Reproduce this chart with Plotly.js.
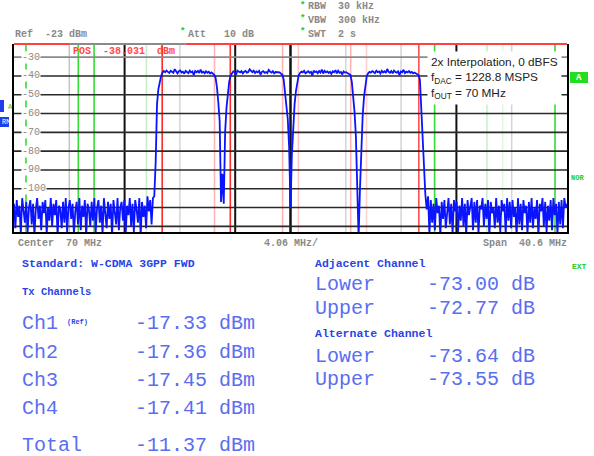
<!DOCTYPE html>
<html><head><meta charset="utf-8">
<script src="https://cdn.plot.ly/plotly-3.0.1.min.js"></script>
<style>html,body{margin:0;padding:0;background:#fff;}#chart{width:594px;height:456px;}</style>
</head><body><div id="chart"></div>
<script>
// ---------------- data ----------------
const centerMHz = 70;
const spanMHz = 40.6;
const startMHz = 49.7;
const stepMHz = 0.1;
const refLevel = -23;
const bottomLevel = -123;

// sweep levels (dBm), 49.7 .. 60.0 MHz
const noiseLow = [
-108,-121,-106,-115,-109,-124,-105,-112,-118,-107,
-123,-110,-106,-119,-108,-125,-111,-105,-116,-109,
-122,-107,-113,-106,-124,-110,-117,-105,-120,-108,
-114,-106,-125,-109,-111,-121,-107,-118,-105,-123,
-110,-106,-116,-108,-124,-112,-107,-119,-105,-122,
-109,-115,-106,-125,-108,-111,-120,-107,-117,-105,
-123,-110,-106,-118,-109,-124,-105,-113,-121,-107,
-116,-108,-125,-106,-112,-119,-105,-122,-110,-107,
-117,-106,-124,-109,-114,-105,-120,-108,-123,-106,
-111,-118,-105,-125,-107,-115,-109,-121,-104,-112,
-106,-119,-105,-104];
// 60.1 .. 80.0 MHz (four W-CDMA carriers)
const band = [
-86,-55,-47,-43,-40,-38.2,
-37.4,-38.0,-37.1,-37.8,-38.4,-37.2,-37.6,-38.3,-36.4,-37.9,-38.6,-37.5,-37.1,-38.2,-37.7,-38.8,-37.3,-37.9,-38.5,-37.2,-38.1,-37.6,-39.6,-37.4,-38.0,-37.3,-38.4,-36.6,-38.2,-37.7,-38.6,-37.5,-38.3,-37.8,-38.7,-38.1,-38.9,
-39.4,-41,-46,-54,-64,-107,-92,-108,-70,-57,-48,-43,-39.8,
-38.3,-37.6,-37.9,-39.4,-37.2,-37.8,-38.1,-37.4,-38.6,-37.7,-37.3,-38.2,-37.9,-36.5,-37.5,-38.0,-37.2,-38.4,-37.6,-38.1,-37.3,-39.3,-37.8,-37.4,-38.3,-37.9,-38.5,-36.8,-37.7,-38.2,-37.5,-38.6,-37.9,-38.0,-38.4,-38.1,-38.8,
-39.2,-42,-48,-55,-63,-78,-110,-82,-64,-55,-48,-43,-39.6,
-38.4,-37.7,-38.1,-37.3,-38.6,-37.9,-37.5,-38.3,-37.8,-39.7,-37.2,-38.0,-37.6,-38.5,-37.4,-38.2,-36.6,-38.7,-37.3,-38.1,-37.6,-38.4,-37.8,-38.9,-37.5,-38.0,-36.9,-38.6,-37.2,-38.3,-37.9,-39.2,-37.6,-38.2,-38.0,-38.6,-38.9,
-39.4,-43,-50,-59,-72,-108,-126,-100,-75,-61,-51,-44,-40,
-38.6,-37.8,-38.2,-37.4,-37.9,-38.5,-37.2,-38.0,-37.6,-38.7,-37.3,-38.1,-37.5,-38.4,-36.3,-37.8,-38.3,-37.4,-38.6,-37.1,-37.9,-38.2,-37.5,-39.6,-37.6,-38.0,-36.7,-38.5,-37.7,-38.1,-37.4,-38.3,-37.8,-38.6,-38.2,-38.7,-39.0,
-39.5,-42,-58,-75,-90,-103,-111];
// 80.1 .. 90.3 MHz
const noiseHigh = [
-104,-124,-106,-118,-108,-122,-105,-113,-109,-125,
-107,-116,-106,-121,-110,-105,-119,-108,-124,-106,
-112,-107,-123,-109,-117,-105,-120,-108,-125,-106,
-114,-110,-105,-122,-107,-118,-106,-124,-109,-111,
-105,-120,-108,-116,-106,-125,-107,-113,-110,-121,
-105,-118,-109,-123,-106,-112,-108,-124,-105,-117,
-107,-121,-106,-115,-110,-125,-105,-119,-108,-122,
-106,-113,-109,-124,-107,-118,-105,-121,-110,-116,
-106,-125,-108,-112,-105,-120,-107,-123,-109,-117,
-106,-122,-105,-114,-108,-124,-107,-119,-106,-121,
-105,-110,-108];

const yTickLabels = [-30,-40,-50,-60,-70,-80,-90,-100];
const gridLevels = [-30,-40,-50,-60,-70,-80,-90,-100,-110,-120];
const channelEdges = [60.58,64.42,65.58,69.42,70.58,74.42,75.58,79.42];
const acpEdges = [50.58,54.42,55.58,59.42,80.58,84.42,85.58,89.42];
const txChannels = ['Ch1','Ch2','Ch3','Ch4'];
const txPower = [-17.33,-17.36,-17.45,-17.41];
const totalPower = -11.37;
const acpSides = ['Lower','Upper'];
const adjacentACP = [-73.00,-72.77];
const alternateACP = [-73.64,-73.55];

// ---------------- styles ----------------
const channelEdgeColors = ['#ff2a2a','#ffb4b4','#ff2a2a','#ffb4b4','#ffc6c6','#ffb4b4','#ffd0d0','#ff5050'];
const acpEdgeColors = ['#33dd33','#33dd33','#33dd33','#c8f0c8','#33dd33','#c8f0c8','#e4f6e4','#33dd33'];
const divColors = ['#c4c4c4','#111111','#d4d4d4','#111111','#111111','#d4d4d4','#d4d4d4','#111111','#d4d4d4'];
const divWidths = [1.5,2,1.5,2,2.5,1.5,1.5,2,1.5];

const levels = noiseLow.concat(band, noiseHigh);
const freqs = levels.map((_, i) => +(startMHz + i * stepMHz).toFixed(2));

const L = 14, T = 44, W = 553, H = 188;
const px = x => (x - L) / W;
const py = y => (T + H - y) / H;

const shapes = [];
const vline = (f, color, width) => shapes.push({type:'line', layer:'below', xref:'x', yref:'paper', x0:f, x1:f, y0:0, y1:1, line:{color:color, width:width}});
for (let k = 1; k <= 9; k++) vline(startMHz + k * spanMHz / 10, divColors[k-1], divWidths[k-1]);
acpEdges.forEach((f, i) => vline(f, acpEdgeColors[i], 1.6));
channelEdges.forEach((f, i) => vline(f, channelEdgeColors[i], 1.6));
gridLevels.forEach(v => shapes.push({type:'line', layer:'below', xref:'paper', yref:'y', x0:0, x1:1, y0:v, y1:v, line:{color: v === -30 ? '#8a8a8a' : '#2a2a2a', width:1.6}}));
// top border (limit line display)
shapes.push({type:'line', xref:'x', yref:'paper', x0:startMHz, x1:53.8, y0:1, y1:1, line:{color:'#ff4040', width:2}});
shapes.push({type:'line', xref:'x', yref:'paper', x0:53.8, x1:62.3, y0:1, y1:1, line:{color:'#8a8a8a', width:2}});
shapes.push({type:'line', xref:'x', yref:'paper', x0:62.3, x1:startMHz + spanMHz, y0:1, y1:1, line:{color:'#ff4040', width:2}});
// side indicators
const rect = (x0, y0, x1, y1, color) => shapes.push({type:'rect', xref:'paper', yref:'paper', x0:px(x0), x1:px(x1), y0:py(y1), y1:py(y0), fillcolor:color, line:{width:0}});
rect(0, 100, 4, 112, '#1f3df0');
rect(0, 117, 9, 127, '#1f3df0');
rect(570, 72, 588, 83, '#22dd22');

const ann = [];
const txt = (x, y, text, size, color, extra) => ann.push(Object.assign({xref:'paper', yref:'paper', x:px(x), y:py(y), xanchor:'left', yanchor:'middle', text:text, showarrow:false, borderpad:0, font:{family:'Liberation Mono, monospace', size:size, color:color}}, extra || {}));

const grey = '#8a8a8a';
const green = '#22cc22';
txt(14, 34, '<b>Ref  -23 dBm</b>', 10, grey);
txt(179, 32, '<b>*</b>', 9, green);
txt(187, 34, '<b>Att   10 dB</b>', 10, grey);
txt(299, 6, '<b>*</b>', 9, green);
txt(307, 7, '<b>RBW  30 kHz</b>', 10, grey);
txt(299, 19, '<b>*</b>', 9, green);
txt(307, 21, '<b>VBW  300 kHz</b>', 10, grey);
txt(299, 32, '<b>*</b>', 9, green);
txt(307, 34, '<b>SWT  2 s</b>', 10, grey);

yTickLabels.forEach(v => ann.push({xref:'paper', yref:'y', x:px(21), y:v, xanchor:'left', yanchor:'middle', text:String(v), showarrow:false, bgcolor:'#ffffff', borderpad:0, font:{family:'Liberation Mono, monospace', size:10, color:grey}}));

txt(72, 52, '<b>POS  -38.031  dBm</b>', 10, '#ff4a4a');

txt(17, 243, '<b>Center  70 MHz</b>', 10, grey);
txt(263, 243, '<b>' + (spanMHz / 10).toFixed(2) + ' MHz/</b>', 10, grey);
txt(482, 243, '<b>Span  ' + spanMHz.toFixed(1) + ' MHz</b>', 10, grey);

txt(0.5, 122, 'RM', 7, '#ffffff');
txt(7, 107, 'A', 7, green);
txt(575, 77.5, '<b>A</b>', 9, '#ffffff');
txt(570, 178, '<b>NOR</b>', 7, green);
txt(571, 266, '<b>EXT</b>', 8, green);

ann.push({xref:'paper', yref:'paper', x:px(427), y:py(51), xanchor:'left', yanchor:'top', align:'left', showarrow:false, bgcolor:'#ffffff', borderpad:3,
  text:'2x Interpolation, 0 dBFS<br>f<sub>DAC</sub> = 1228.8 MSPS<br>f<sub>OUT</sub> = ' + centerMHz + ' MHz',
  font:{family:'Liberation Sans, Arial, sans-serif', size:11.8, color:'#222222'}});

const blueS = '#2b44e6';
const blueL = '#5a6ef0';
txt(21, 263, '<b>Standard: W-CDMA 3GPP FWD</b>', 11.5, blueS);
txt(21, 292, '<b>Tx Channels</b>', 10.5, blueS);
txChannels.forEach((c, i) => {
  const y = [323, 352, 380, 408][i];
  txt(21, y, c, 20, blueL);
  txt(134, y, txPower[i].toFixed(2) + ' dBm', 20, blueL);
});
txt(66, 322, '<b>(Ref)</b>', 7, blueS);
txt(21, 445, 'Total', 20, blueL);
txt(134, 445, totalPower.toFixed(2) + ' dBm', 20, blueL);

txt(314, 263, '<b>Adjacent Channel</b>', 11.5, blueS);
acpSides.forEach((s, i) => {
  const y = [284, 308][i];
  txt(314, y, s, 20, blueL);
  txt(426, y, adjacentACP[i].toFixed(2) + ' dB', 20, blueL);
});
txt(314, 333, '<b>Alternate Channel</b>', 11.5, blueS);
acpSides.forEach((s, i) => {
  const y = [356, 379][i];
  txt(314, y, s, 20, blueL);
  txt(426, y, alternateACP[i].toFixed(2) + ' dB', 20, blueL);
});

const trace = {x:freqs, y:levels, type:'scatter', mode:'lines', line:{color:'#0a14ff', width:1.8}, hoverinfo:'skip'};

const layout = {
  width:594, height:456,
  margin:{l:L, r:594 - L - W, t:T, b:456 - T - H, pad:0},
  paper_bgcolor:'#ffffff', plot_bgcolor:'#ffffff',
  showlegend:false,
  xaxis:{range:[startMHz, startMHz + spanMHz], showgrid:false, zeroline:false, showticklabels:false, ticks:'', showline:true, linecolor:'#000000', linewidth:2, mirror:false, fixedrange:true},
  yaxis:{range:[bottomLevel, refLevel], showgrid:false, zeroline:false, showticklabels:false, ticks:'', showline:true, linecolor:'#000000', linewidth:2, mirror:true, fixedrange:true},
  shapes:shapes,
  annotations:ann
};
Plotly.newPlot('chart', [trace], layout, {staticPlot:true, displayModeBar:false});
</script>
</body></html>
